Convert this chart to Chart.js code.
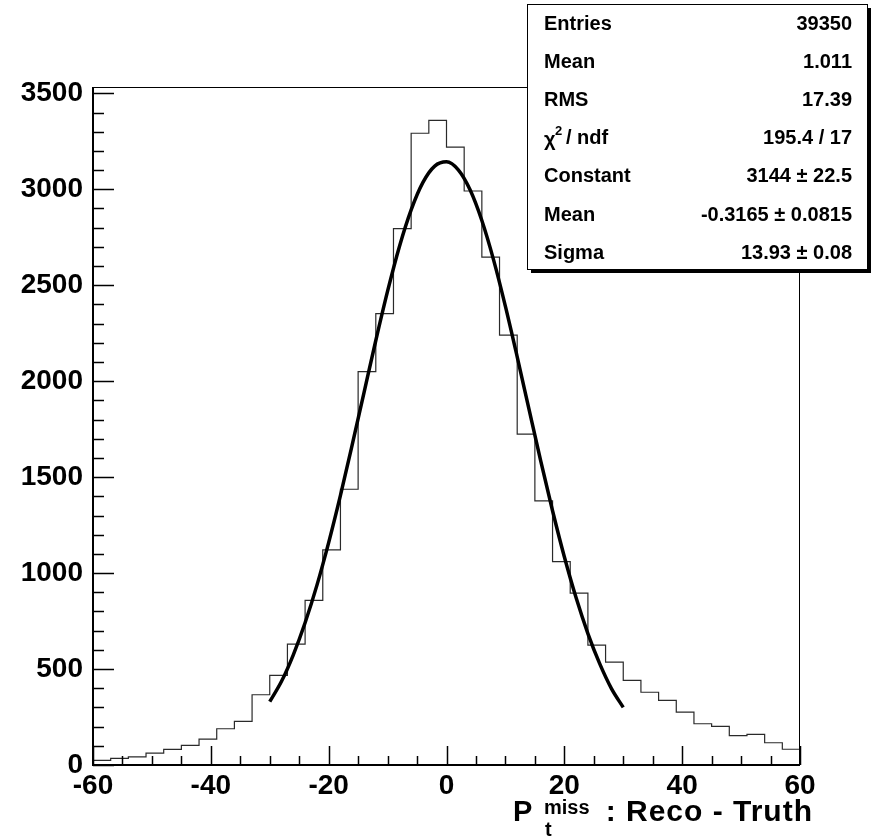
<!DOCTYPE html>
<html>
<head>
<meta charset="utf-8">
<script src="https://cdn.jsdelivr.net/npm/chart.js@4.4.0/dist/chart.umd.min.js"></script>
<style>
  html, body { margin: 0; padding: 0; background: #fff; }
</style>
</head>
<body>
<canvas id="myChart" width="872" height="839"></canvas>
<script>
// histograma: limite inferior de cada bin (ancho 3)
const binLow = [-60,-57,-54,-51,-48,-45,-42,-39,-36,-33,-30,-27,-24,-21,-18,-15,-12,-9,-6,-3,
                0,3,6,9,12,15,18,21,24,27,30,33,36,39,42,45,48,51,54,57]
const binHigh = 60
const counts = [24,35,42,62,81,102,135,189,227,366,467,630,858,1121,1437,2050,2352,2795,3292,3359,
                3220,2991,2647,2240,1724,1376,1060,896,625,536,441,379,337,276,215,201,153,160,116,82]

// curva del ajuste
const fitX = [-30,-28,-26,-24,-22,-20,-18,-16,-14,-12,-10,-8,-6,-4,-2,0,2,4,6,8,10,12,14,16,18,20,22,24,26,28,30]
const fitY = [330,436,574,741,936,1159,1405,1669,1941,2212,2469,2701,2893,3036,3121,3143,3101,2997,2837,2631,2390,2127,1854,1583,1325,1085,871,685,528,398,300]

const xTicks = [-60,-40,-20,0,20,40,60]
const yTicks = [0,500,1000,1500,2000,2500,3000,3500]
const yMax = 3533

const statsNames = ['Entries','Mean','RMS','chi2','Constant','Mean','Sigma']
const statsValues = ['39350','1.011','17.39','195.4 / 17','3144 \u00b1 22.5','-0.3165 \u00b1 0.0815','13.93 \u00b1 0.08']

const FONT = 'Liberation Sans, Arial, Helvetica, sans-serif'

const histPoints = binLow.map((x, i) => ({ x: x, y: counts[i] }))
histPoints.push({ x: binHigh, y: counts[counts.length - 1] })
const fitPoints = fitX.map((x, i) => ({ x: x, y: fitY[i] }))

// marco, ticks hacia adentro, titulo del eje y caja de estadisticas
const rootStyle = {
  id: 'rootStyle',
  afterDraw(chart) {
    const ctx = chart.ctx
    const a = chart.chartArea
    const xs = chart.scales.x
    const ys = chart.scales.y
    ctx.save()
    ctx.strokeStyle = '#000'
    ctx.lineWidth = 1
    ctx.strokeRect(a.left + 0.5, a.top + 0.5, a.right - a.left - 1, a.bottom - a.top)
    ctx.lineWidth = 2
    ctx.beginPath()
    ctx.moveTo(a.left, a.top)
    ctx.lineTo(a.left, a.bottom)
    ctx.lineTo(a.right, a.bottom)
    ctx.stroke()

    ctx.lineWidth = 1.5
    ctx.beginPath()
    for (let v = 0; v <= 3500; v += 100) {
      const py = Math.round(ys.getPixelForValue(v)) + 0.5
      const len = v % 500 === 0 ? 21 : 11
      ctx.moveTo(a.left, py)
      ctx.lineTo(a.left + len, py)
    }
    for (let v = -60; v <= 60; v += 5) {
      const px = Math.round(xs.getPixelForValue(v)) + 0.5
      const len = v % 20 === 0 ? 19 : 9
      ctx.moveTo(px, a.bottom)
      ctx.lineTo(px, a.bottom - len)
    }
    ctx.stroke()

    // titulo eje x
    ctx.fillStyle = '#000'
    ctx.textBaseline = 'alphabetic'
    ctx.textAlign = 'left'
    ctx.font = 'bold 29px ' + FONT
    ctx.fillText('P', 513, 821)
    ctx.font = 'bold 30px ' + FONT
    ctx.letterSpacing = '1px'
    ctx.textAlign = 'right'
    ctx.fillText(': Reco - Truth', 813, 821)
    ctx.letterSpacing = '0px'
    ctx.textAlign = 'left'
    ctx.font = 'bold 20px ' + FONT
    ctx.fillText('miss', 544, 814)
    ctx.fillText('t', 545, 836)

    // caja de estadisticas
    const bx = 527, by = 4, bw = 340, bh = 265
    ctx.fillStyle = '#000'
    ctx.fillRect(bx + 4, by + bh, bw, 4)
    ctx.fillRect(bx + bw, by + 4, 4, bh)
    ctx.fillStyle = '#fff'
    ctx.fillRect(bx, by, bw, bh)
    ctx.strokeStyle = '#000'
    ctx.lineWidth = 1
    ctx.strokeRect(bx + 0.5, by + 0.5, bw, bh)

    ctx.fillStyle = '#000'
    ctx.textBaseline = 'middle'
    statsNames.forEach((name, i) => {
      const cy = 24 + i * 38.2
      ctx.font = 'bold 20px ' + FONT
      ctx.textAlign = 'left'
      if (name === 'chi2') {
        ctx.fillText('\u03c7', 544, cy + 2)
        ctx.font = 'bold 13px ' + FONT
        ctx.fillText('2', 555, cy - 7)
        ctx.font = 'bold 20px ' + FONT
        ctx.fillText('/ ndf', 566, cy)
      } else {
        ctx.fillText(name, 544, cy)
      }
      ctx.textAlign = 'right'
      ctx.fillText(statsValues[i], 852, cy)
    })
    ctx.restore()
  }
}

const ctx = document.getElementById('myChart').getContext('2d')
const myChart = new Chart(ctx, {
  type: 'line',
  data: {
    datasets: [
      {
        label: 'Ajuste',
        data: fitPoints,
        borderColor: '#000',
        borderWidth: 3.5,
        pointRadius: 0,
        cubicInterpolationMode: 'monotone',
        fill: false
      },
      {
        label: 'Histograma',
        data: histPoints,
        borderColor: '#2a2a2a',
        borderWidth: 1.2,
        pointRadius: 0,
        stepped: 'before',
        fill: false
      }
    ]
  },
  options: {
    responsive: false,
    animation: false,
    devicePixelRatio: 1,
    layout: { padding: { left: 0, right: 72, top: 87, bottom: 0 } },
    plugins: {
      legend: { display: false },
      tooltip: { enabled: false }
    },
    scales: {
      x: {
        type: 'linear',
        min: -60,
        max: 60,
        afterBuildTicks: (s) => { s.ticks = xTicks.map(v => ({ value: v })) },
        afterFit: (s) => { s.height = 74 },
        grid: { display: false, drawTicks: false },
        border: { display: false },
        ticks: {
          autoSkip: false,
          maxRotation: 0,
          padding: 4,
          color: '#000',
          font: { family: FONT, weight: 'bold', size: 28 },
          callback: (v) => String(v)
        }
      },
      y: {
        type: 'linear',
        min: 0,
        max: yMax,
        afterBuildTicks: (s) => { s.ticks = yTicks.map(v => ({ value: v })) },
        afterFit: (s) => { s.width = 93 },
        grid: { display: false, drawTicks: false },
        border: { display: false },
        ticks: {
          padding: 10,
          color: '#000',
          font: { family: FONT, weight: 'bold', size: 28 },
          callback: (v) => String(v)
        }
      }
    }
  },
  plugins: [rootStyle]
})
</script>
</body>
</html>
